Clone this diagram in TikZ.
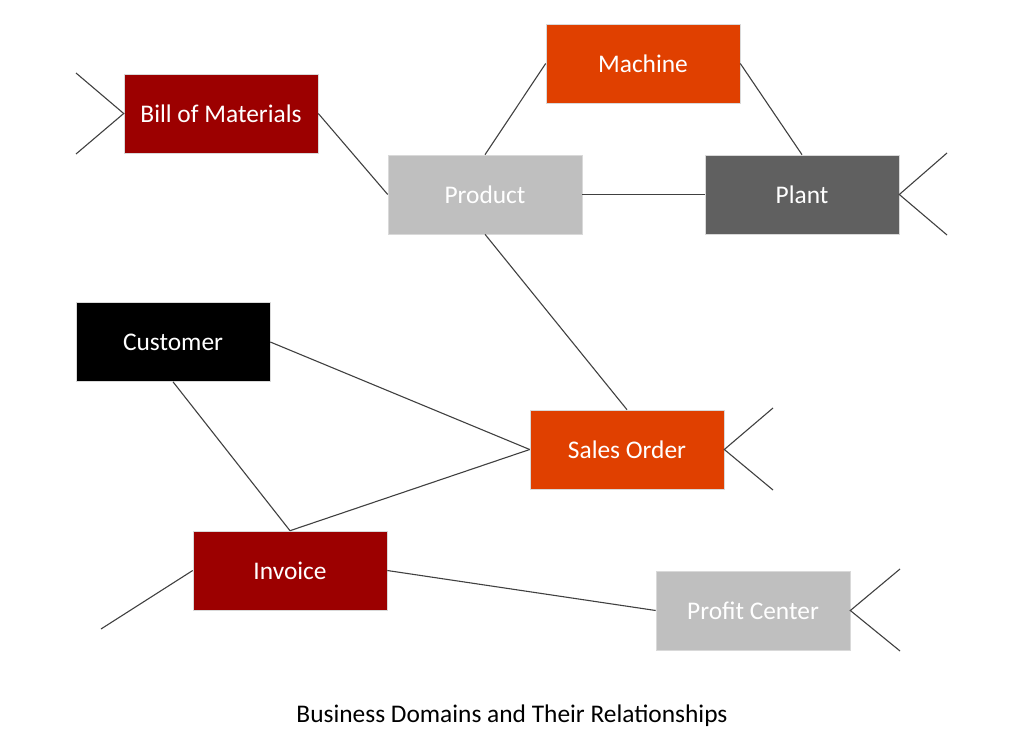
\documentclass[tikz,border=0pt]{standalone}
\usepackage{fontspec}
\setmainfont{Carlito}
\definecolor{dred}{HTML}{9C0000}
\definecolor{orng}{HTML}{E04000}
\definecolor{lgray}{HTML}{BFBFBF}
\definecolor{dgray}{HTML}{606060}
\definecolor{linec}{HTML}{404040}
\begin{document}
\begin{tikzpicture}[x=1pt,y=-1pt,
  box/.style={draw=white!85!black, line width=0.6pt, minimum width=194pt, minimum height=79pt, inner sep=0pt, text=white, font=\fontsize{25.4}{30}\selectfont},
  conn/.style={draw=linec, line width=1.1pt}]
\useasboundingbox (0,0) rectangle (1024,741);
\node[box, fill=dred] (bom) at (221,113.5) {Bill of Materials};
\node[box, fill=orng] (machine) at (643,63.5) {Machine};
\node[box, fill=lgray] (product) at (485,194.5) {Product};
\node[box, fill=dgray] (plant) at (802,194.5) {Plant};
\node[box, fill=black] (customer) at (173,342) {Customer};
\node[box, fill=orng] (sales) at (627,449.5) {Sales Order};
\node[box, fill=dred] (invoice) at (290,570.5) {Invoice};
\node[box, fill=lgray] (profit) at (753,610.5) {Profit Center};
\node[font=\fontsize{25.4}{30}\selectfont] (caption) at (512,716) {Business Domains and Their Relationships};

\coordinate (bomA) at (76,73);
\coordinate (bomB) at (76,154);
\coordinate (plantA) at (947,153);
\coordinate (plantB) at (947,235);
\coordinate (salesA) at (773,408);
\coordinate (salesB) at (773,490);
\coordinate (profA) at (900,569);
\coordinate (profB) at (900,651);
\coordinate (invA) at (101,629);

\draw[conn] (bomA) -- (bom.west) -- (bomB);
\draw[conn] (plantA) -- (plant.east) -- (plantB);
\draw[conn] (salesA) -- (sales.east) -- (salesB);
\draw[conn] (profA) -- (profit.east) -- (profB);
\draw[conn] (invoice.west) -- (invA);
\draw[conn] (bom.east) -- (product.west);
\draw[conn] (product.north) -- (machine.west);
\draw[conn] (machine.east) -- (plant.north);
\draw[conn] (product.east) -- (plant.west);
\draw[conn] (product.south) -- (sales.north);
\draw[conn] (customer.east) -- (sales.west);
\draw[conn] (customer.south) -- (invoice.north);
\draw[conn] (invoice.north) -- (sales.west);
\draw[conn] (invoice.east) -- (profit.west);
\end{tikzpicture}
\end{document}
